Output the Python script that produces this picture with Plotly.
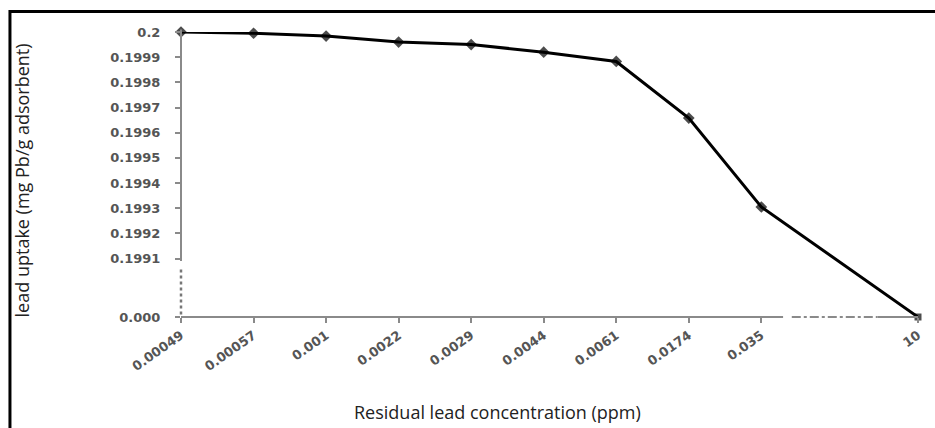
import plotly.graph_objects as go

# ---- data ----
categories = ["0.00049", "0.00057", "0.001", "0.0022", "0.0029", "0.0044",
              "0.0061", "0.0174", "0.035", "10"]
uptake = [0.2, 0.199995, 0.199984, 0.19996, 0.19995, 0.19992,
          0.199883, 0.199658, 0.199305, 0.000]
y_tick_vals = [0.2, 0.1999, 0.1998, 0.1997, 0.1996, 0.1995, 0.1994,
               0.1993, 0.1992, 0.1991, 0.0]
y_tick_text = ["0.2", "0.1999", "0.1998", "0.1997", "0.1996", "0.1995",
               "0.1994", "0.1993", "0.1992", "0.1991", "0.000"]

# ---- broken-axis helpers (layout only) ----
BREAK_BASE = 0.198868      # where 0.000 is drawn below the break
LAST_GAP = 2.16            # extra spacing before the last category (axis break)
Y_TOP = 0.2


def disp_y(v):
    return v if v >= 0.199 else BREAK_BASE + v


x_pos = [float(i) for i in range(len(categories) - 1)]
x_pos.append(x_pos[-1] + LAST_GAP)
y_disp = [disp_y(v) for v in uptake]

W, H = 935, 428
ML, MR, MT, MB = 181, 15, 32, 111

n = len(categories)
fig = go.Figure()
fig.add_trace(go.Scatter(
    x=x_pos, y=y_disp, mode="lines+markers",
    line=dict(color="black", width=3),
    marker=dict(symbol=["diamond"] * (n - 1) + ["square"],
                size=[9] * (n - 1) + [7], color="black",
                line=dict(color="black", width=0)),
    cliponaxis=False, showlegend=False,
    customdata=uptake, hovertemplate="%{customdata}<extra></extra>",
))

axis_col = "#8a8a8a"
tick_font = dict(family="DejaVu Sans", size=13, color="#555555", weight="bold")

fig.update_xaxes(
    range=[0, x_pos[-1]], tickmode="array", tickvals=x_pos, ticktext=categories,
    tickangle=-35, ticks="outside", ticklen=5, tickwidth=2, tickcolor=axis_col,
    showline=False, showgrid=False, zeroline=False, tickfont=tick_font,
)
fig.update_yaxes(
    range=[BREAK_BASE, Y_TOP], tickmode="array",
    tickvals=[disp_y(v) for v in y_tick_vals], ticktext=y_tick_text,
    ticks="outside", ticklen=5, tickwidth=2, tickcolor=axis_col,
    showline=False, showgrid=False, zeroline=False, tickfont=tick_font,
    ticklabelstandoff=12,
)

pw = W - ML - MR
ph = H - MT - MB


def px_x(p):
    return (p - ML) / pw


def px_y(p):
    return (H - MB - p) / ph


def dx(v):       # x data -> paper
    return v / x_pos[-1]


def dy(v):       # y display value -> paper
    return (v - BREAK_BASE) / (Y_TOP - BREAK_BASE)


P = dict(xref="paper", yref="paper", type="line")
shapes = [
    # outer frame
    dict(type="rect", xref="paper", yref="paper",
         x0=px_x(9.5), x1=px_x(960), y0=px_y(460), y1=px_y(11.5),
         line=dict(color="black", width=3), layer="below"),
    # y axis, solid part
    dict(**P, x0=0, x1=0, y0=dy(0.19909), y1=dy(0.20001),
         line=dict(color=axis_col, width=2)),
    # y axis, dotted broken part
    dict(**P, x0=0, x1=0, y0=dy(BREAK_BASE + 0.00001), y1=dy(0.19906),
         line=dict(color="#777777", width=2.5, dash="dot")),
    # x axis, solid part
    dict(**P, x0=0, x1=dx(8.3), y0=0, y1=0,
         line=dict(color=axis_col, width=2)),
    # x axis, dash-dot broken part
    dict(**P, x0=dx(8.42), x1=dx(9.6), y0=0, y1=0,
         line=dict(color=axis_col, width=2, dash="dashdot")),
    dict(**P, x0=dx(9.6), x1=1, y0=0, y1=0,
         line=dict(color=axis_col, width=2)),
]

title_font = dict(family="Open Sans", size=18, color="#222222")
annotations = [
    dict(text="Residual lead concentration (ppm)", xref="paper", yref="paper",
         x=px_x(498), y=px_y(412), xanchor="center", yanchor="middle",
         showarrow=False, font=title_font),
    dict(text="lead uptake (mg Pb/g adsorbent)", xref="paper", yref="paper",
         x=px_x(22), y=px_y(180), xanchor="center", yanchor="middle",
         textangle=-90, showarrow=False, font=title_font),
]

fig.update_layout(
    width=W, height=H, margin=dict(l=ML, r=MR, t=MT, b=MB),
    paper_bgcolor="white", plot_bgcolor="white",
    shapes=shapes, annotations=annotations,
)

fig.write_html("out.html")
